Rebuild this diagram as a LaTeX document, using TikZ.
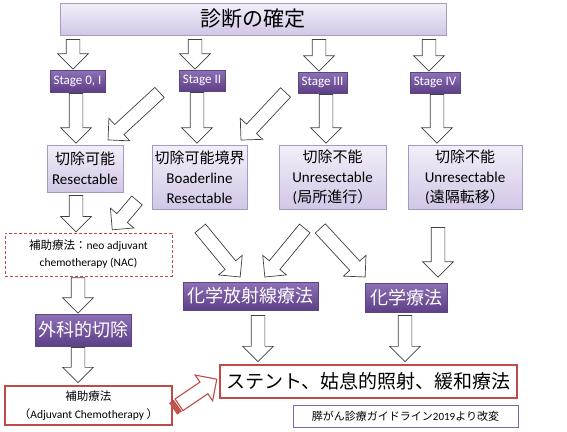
\documentclass[tikz,border=0pt]{standalone}
\usepackage{fontspec}
\setmainfont{Carlito}
\newfontfamily\jp{Noto Sans CJK JP}
\usetikzlibrary{shapes.arrows,calc}

\definecolor{lilactop}{HTML}{F3EFF9}
\definecolor{lilacbot}{HTML}{D2C6E6}
\definecolor{lilacline}{HTML}{A898C4}
\definecolor{plumtop}{HTML}{8D70B6}
\definecolor{plumbot}{HTML}{5E3F88}
\definecolor{plumline}{HTML}{5A4680}
\definecolor{boxred}{HTML}{BE4B48}
\definecolor{noteline}{HTML}{8064A8}

\newcommand\blockarrow[3][]{%
  \path let \p1=#2, \p2=#3,
    \n1={atan2(\y2-\y1,\x2-\x1)}, \n2={veclen(\x2-\x1,\y2-\y1)} in
    node[hollowarrow,#1,rotate=\n1,minimum height=\n2,anchor=tail] at (\p1) {};}

\begin{document}
\begin{tikzpicture}[x=1pt,y=-1pt,
    lightbox/.style={draw=lilacline, top color=lilactop, bottom color=lilacbot, align=center, inner sep=0pt, font=\fontsize{15}{20}\selectfont},
    darkbox/.style={draw=plumline, top color=plumtop, bottom color=plumbot, text=white, inner sep=0pt, font=\fontsize{13}{14}\selectfont},
    redbox/.style={draw=boxred, line width=1.3pt, fill=white, align=center, inner sep=0pt},
    hollowarrow/.style={single arrow, draw=black!75, fill=white, line width=0.7pt, inner xsep=0pt, inner ysep=6.5pt, minimum width=30pt, single arrow head extend=8.5pt, single arrow tip angle=90},
    redarrow/.style={draw=boxred, line width=1.1pt}
]
\useasboundingbox (0,0) rectangle (567,431);

\node[lightbox, minimum width=386, minimum height=32, font=\jp\fontsize{21}{24}\selectfont] (title) at (253,19) {診断の確定};

\node[darkbox, minimum width=55, minimum height=22] (s1) at (77.5,81) {Stage 0, I};
\node[darkbox, minimum width=46, minimum height=21] (s2) at (202,80.5) {Stage II};
\node[darkbox, minimum width=49, minimum height=21] (s3) at (322.5,82.5) {Stage III};
\node[darkbox, minimum width=50, minimum height=21] (s4) at (435,82.5) {Stage IV};

\node[lightbox, minimum width=76, minimum height=47] (resect) at (85,168.5) {{\jp 切除可能}\\Resectable};
\node[lightbox, minimum width=95, minimum height=64] (border) at (199.5,177) {{\jp 切除可能境界}\\Boaderline\\Resectable};
\node[lightbox, minimum width=107, minimum height=64] (unres1) at (332.5,177) {{\jp 切除不能}\\Unresectable\\({\jp 局所進行）}};
\node[lightbox, minimum width=114, minimum height=64] (unres2) at (465,177) {{\jp 切除不能}\\Unresectable\\({\jp 遠隔転移）}};

\node[redbox, dashed, dash pattern=on 3pt off 2pt, line width=0.9pt, minimum width=167, minimum height=43, font=\fontsize{11.5}{17}\selectfont] (nac) at (88.5,254.5) {{\jp 補助療法：}neo adjuvant\\chemotherapy (NAC)};

\node[darkbox, minimum width=135, minimum height=28, font=\jp\fontsize{18}{20}\selectfont] (crt) at (250.5,296) {化学放射線療法};
\node[darkbox, minimum width=82, minimum height=29, font=\jp\fontsize{18}{20}\selectfont] (chemo) at (406,297.5) {化学療法};
\node[darkbox, minimum width=96, minimum height=32, font=\jp\fontsize{18}{20}\selectfont] (surg) at (83,330) {外科的切除};

\node[redbox, minimum width=297, minimum height=33, font=\jp\fontsize{19}{21}\selectfont] (pall) at (368.5,381.5) {ステント、姑息的照射、緩和療法};
\node[redbox, minimum width=167, minimum height=39, font=\fontsize{11.5}{18}\selectfont] (adj) at (88.5,405.5) {{\jp 補助療法}\\{\jp （}Adjuvant Chemotherapy {\jp ）}};
\node[draw=noteline, line width=0.8pt, fill=white, minimum width=225, minimum height=22, inner sep=0pt, font=\fontsize{11}{13}\selectfont] (note) at (405.5,416) {{\jp 膵がん診療ガイドライン}2019{\jp より改変}};

\foreach \s/\dx in {s1/-4.5,s2/-7,s3/-3.5,s4/-6}{
  \blockarrow{($(title.south -| \s)+(\dx,4)$)}{($(\s.north)+(\dx,-1)$)}
}
\foreach \s/\b/\dx in {s1/resect/-1.5,s2/border/-5,s3/unres1/3.5,s4/unres2/2}{
  \blockarrow{($(\s.south)+(\dx,1)$)}{($(\b.north -| \s)+(\dx,-2)$)}
}

\blockarrow{($(s2.south west)+(-19,1)$)}{($(resect.north east)+(-15,-5)$)}
\blockarrow{($(s3.south west)+(-12,-1)$)}{($(border.north east)+(-6,-5)$)}

\blockarrow{($(resect.south)+(-9,3)$)}{($(nac.north -| resect)+(-9,-1)$)}
\blockarrow{($(resect.south east)+(14,8)$)}{($(nac.north east)+(-60,-3)$)}
\blockarrow{($(nac.south)+(-10.5,1)$)}{($(surg.north -| nac)+(-10.5,-1)$)}
\blockarrow{($(surg.south)+(-5,1)$)}{($(adj.north -| surg)+(-5,-3)$)}

\blockarrow{($(border.south)+(0.5,19)$)}{($(crt.north)+(-10.5,-5)$)}
\blockarrow{($(unres1.south)+(-27.5,19)$)}{($(crt.north)+(14.5,-5)$)}
\blockarrow{($(unres1.south)+(-12.5,19)$)}{($(chemo.north)+(-41,-6)$)}
\blockarrow{($(unres2.south)+(-27,18)$)}{($(chemo.north -| unres2)+(-27,-6)$)}

\blockarrow{($(crt.south)+(7.5,5)$)}{($(pall.north -| crt)+(7.5,-3)$)}
\blockarrow{($(chemo.south)+(-1,3)$)}{($(pall.north -| chemo)+(-1,-3)$)}

\begin{scope}[shift={($(adj.east)+(1,3)$)}, rotate=35]
  \draw[redarrow, fill=white] (0,-6.5) rectangle (1.5,6.5) (3,-6.5) rectangle (4.5,6.5);
\end{scope}
\blockarrow[redarrow]{($(adj.east)+(5.9,-0.4)$)}{($(pall.west)+(-3,-2)$)}

\end{tikzpicture}
\end{document}
